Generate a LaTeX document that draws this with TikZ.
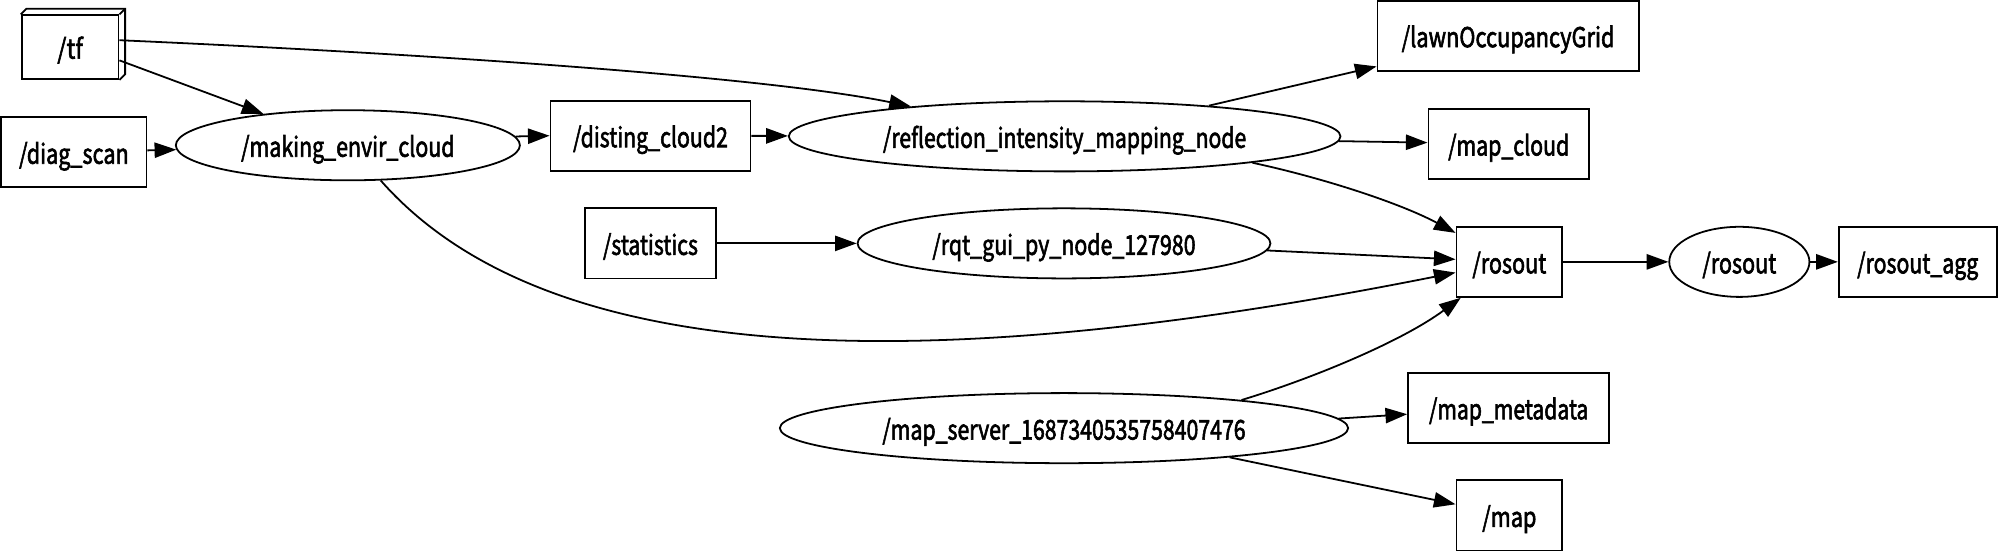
\documentclass[tikz,border=0pt]{standalone}
\usepackage{fontspec}
\setmainfont{Noto Sans CJK SC}
\newfontfamily\lblfont[FakeBold=2.5]{Noto Sans CJK SC}
\usetikzlibrary{shapes.geometric,arrows.meta,calc}
\newcommand{\fitt}[2]{\resizebox{#1pt}{\height}{#2}}
\begin{document}
\begin{tikzpicture}[x=1pt,y=-1pt,
  lbl/.style={font=\fontsize{21.4}{24}\lblfont,text height=19pt,text depth=1pt},
  topic/.style={lbl,draw,rectangle,line width=1.4pt,minimum height=55pt,inner sep=0pt},
  rosnode/.style={lbl,draw,ellipse,line width=1.4pt,minimum height=55pt,inner sep=0pt},
  arr/.style={line width=1.4pt,-{Triangle[length=17pt,width=12pt]}}]
\useasboundingbox (0,0) rectangle (1568,433);
% nodes
\node[topic,minimum width=76pt,minimum height=50pt] (tf) at (55,37) {\fitt{20}{/tf}};
\draw[line width=1.4pt] (tf.north west) -- ++(4.5,-4.5) -| ($(tf.south east)+(4.5,-4.5)$) -- (tf.south east);
\draw[line width=1.4pt] (tf.north east) -- ++(4.5,-4.5);
\node[topic,minimum width=114pt] (diag) at (58,119.5) {\fitt{86}{/diag\_scan}};
\node[rosnode,minimum width=270pt] (mec) at (273,114) {\fitt{167.5}{/making\_envir\_cloud}};
\node[topic,minimum width=157pt] (dist) at (510.5,106.5) {\fitt{121.5}{/disting\_cloud2}};
\node[rosnode,minimum width=433pt] (rimn) at (835.5,107) {\fitt{285}{/reflection\_intensity\_mapping\_node}};
\node[topic,minimum width=205pt] (lawn) at (1183.5,28) {\fitt{167}{/lawnOccupancyGrid}};
\node[topic,minimum width=126pt] (mapc) at (1184,113) {\fitt{95}{/map\_cloud}};
\node[topic,minimum width=103pt] (stat) at (510.5,191) {\fitt{74.5}{/statistics}};
\node[rosnode,minimum width=324pt] (rqt) at (835,191) {\fitt{206.5}{/rqt\_gui\_py\_node\_127980}};
\node[topic,minimum width=83pt] (rosout) at (1184.5,205.5) {\fitt{58}{/rosout}};
\node[rosnode,minimum width=110pt] (rosoutn) at (1365,205.5) {\fitt{58}{/rosout}};
\node[topic,minimum width=124pt] (agg) at (1505,205.5) {\fitt{95}{/rosout\_agg}};
\node[topic,minimum width=158pt] (mmeta) at (1184,320) {\fitt{125}{/map\_metadata}};
\node[rosnode,minimum width=446pt] (ms) at (835,336) {\fitt{285}{/map\_server\_1687340535758407476}};
\node[topic,minimum width=83pt] (map) at (1184.5,404.5) {\fitt{42.5}{/map}};
% edges
\draw[arr] (tf.-15) -- (mec);
\draw[arr] (tf.8) .. controls (330,42) and (600,60) .. (rimn.169.3);
\draw[arr] (diag) -- (mec);
\draw[arr] (mec.3.5) -- (dist.west);
\draw[arr] (dist) -- (rimn);
\draw[arr] (rimn.12.5) -- (lawn);
\draw[arr] (rimn.-1) -- (mapc);
\draw[arr] (rimn.-8.6) .. controls (1040,140) and (1100,160) .. (rosout);
\draw[arr] (mec.-47) .. controls (425,285) and (710,300) .. (rosout);
\draw[arr] (stat) -- (rqt);
\draw[arr] (rqt.-2.2) -- (rosout);
\draw[arr] (rosout) -- (rosoutn);
\draw[arr] (rosoutn) -- (agg);
\draw[arr] (ms.9.4) .. controls (1030,297) and (1100,268) .. (rosout);
\draw[arr] (ms.2.7) -- (mmeta);
\draw[arr] (ms.-10.9) -- (map);
\end{tikzpicture}
\end{document}
